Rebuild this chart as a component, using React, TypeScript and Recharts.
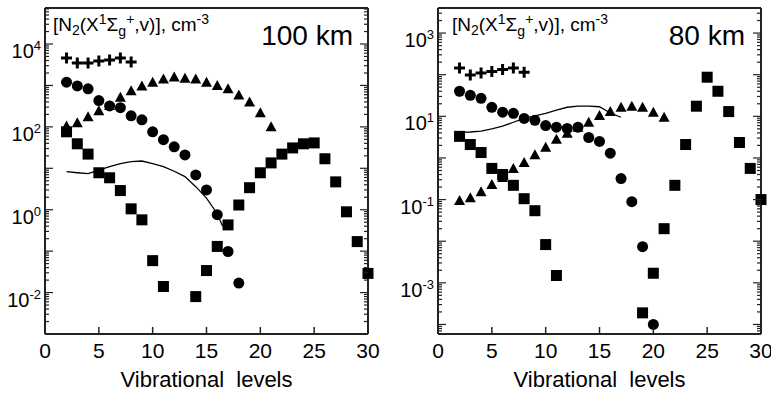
import React from 'react';
import { ComposedChart, Scatter, Line, XAxis, YAxis } from 'recharts';

// ---- 100 km panel ----
const plusLevels100 = [2, 3, 4, 5, 6, 7, 8];
const plus100 = [4600, 3500, 3500, 3900, 4100, 4600, 3700];
const circleLevels100 = [2, 3, 4, 5, 6, 7, 8, 9, 10, 11, 12, 13, 14, 15, 16, 17, 18];
const circle100 = [1200, 970, 830, 430, 320, 290, 185, 148, 76, 49, 33, 21, 6.9, 3.0, 0.76, 0.098, 0.017];
const triLevels100 = [2, 3, 4, 5, 6, 7, 8, 9, 10, 11, 12, 13, 14, 15, 16, 17, 18, 19, 20, 21];
const tri100 = [105, 125, 175, 245, 330, 520, 740, 970, 1200, 1440, 1600, 1500, 1440, 1200, 1000, 830, 590, 400, 220, 100];
const sqLevels100 = [2, 3, 4, 5, 6, 7, 8, 9, 10, 11, 14, 15, 16, 17, 18, 19, 20, 21, 22, 23, 24, 25, 26, 27, 28, 29, 30];
const sq100 = [76, 39, 22, 7.8, 5.9, 2.9, 1.05, 0.57, 0.059, 0.014, 0.008, 0.034, 0.13, 0.43, 1.3, 3.4, 7.8, 13.5, 22, 31, 39, 41, 17, 4.7, 0.89, 0.17, 0.029];
const lineLevels100 = [2, 3, 4, 5, 6, 7, 8, 9, 10, 11, 12, 13, 14, 15, 16, 16.5];
const line100 = [8.3, 7.8, 7.4, 9, 11, 13, 14.5, 15, 13, 11, 8.5, 6.3, 3.6, 1.9, 0.8, 0.4];

// ---- 80 km panel ----
const plusLevels80 = [2, 3, 4, 5, 6, 7, 8];
const plus80 = [145, 98, 110, 120, 134, 145, 115];
const circleLevels80 = [2, 3, 4, 5, 6, 7, 8, 9, 10, 11, 12, 13, 14, 15, 16, 17, 18, 19, 20];
const circle80 = [40, 32, 27, 16.5, 12.6, 11.8, 8.9, 8, 6, 5.5, 5.1, 5.5, 3.1, 2.5, 1.3, 0.32, 0.089, 0.0074, 0.0001];
const triLevels80 = [2, 3, 4, 5, 6, 7, 8, 9, 10, 11, 12, 13, 14, 15, 16, 17, 18, 19, 20, 21];
const tri80 = [0.095, 0.11, 0.155, 0.23, 0.34, 0.56, 0.78, 1.2, 1.8, 2.8, 3.9, 5.5, 7.2, 10.5, 13, 16.5, 17.5, 16.5, 12.6, 9.5];
const sqLevels80 = [2, 3, 4, 5, 6, 7, 8, 9, 10, 11, 19, 20, 21, 22, 23, 24, 25, 26, 27, 28, 29, 30];
const sq80 = [3.3, 2.1, 1.35, 0.56, 0.4, 0.22, 0.105, 0.054, 0.0083, 0.0015, 0.00019, 0.0017, 0.02, 0.22, 2.1, 17.5, 87, 40, 13, 2.35, 0.56, 0.1];
const lineLevels80 = [2, 3, 4, 5, 6, 7, 8, 9, 10, 11, 12, 13, 14, 15, 16, 17];
const line80 = [4.1, 4.2, 4.4, 5, 5.8, 7.2, 8.9, 10.3, 11.8, 14, 16.5, 17.5, 17.5, 17, 12, 9.5];

// axes
const xTicks = [0, 5, 10, 15, 20, 25, 30];
const yLabels100 = [-2, 0, 2, 4];
const yLabels80 = [-3, -1, 1, 3];
const yDomain100: [number, number] = [1e-3, 7.4e4];
const yDomain80: [number, number] = [5.9e-5, 4.0e3];

const INK = '#222';
const FONT = '"Liberation Sans", Arial, sans-serif';

const zip = (xs: number[], ys: number[]) => xs.map((v, i) => ({ v, n: ys[i] }));

function logTicks([lo, hi]: [number, number]) {
  const out: number[] = [];
  for (let e = Math.floor(Math.log10(lo)); e <= Math.ceil(Math.log10(hi)); e++) {
    for (let m = 1; m <= 9; m++) {
      const t = m * Math.pow(10, e);
      if (t >= lo && t <= hi) out.push(t);
    }
  }
  return out;
}

const isDecade = (t: number) => Math.abs(Math.log10(t) - Math.round(Math.log10(t))) < 1e-6;

const Square = (p: any) => <rect x={p.cx - 5.5} y={p.cy - 5.5} width={11} height={11} fill="#000" />;
const Dot = (p: any) => <circle cx={p.cx} cy={p.cy} r={5.5} fill="#000" />;
const Tri = (p: any) => (
  <path d={`M${p.cx},${p.cy - 5.5}L${p.cx + 5.5},${p.cy + 4.5}L${p.cx - 5.5},${p.cy + 4.5}Z`} fill="#000" />
);
const Plus = (p: any) => (
  <path d={`M${p.cx - 5.5},${p.cy}H${p.cx + 5.5}M${p.cx},${p.cy - 5.5}V${p.cy + 5.5}`} stroke="#000" strokeWidth={3} />
);

const makeLeftTick = (labels: number[]) => (p: any) => {
  const t = p.payload.value;
  const major = isDecade(t);
  const e = Math.round(Math.log10(t));
  return (
    <g>
      <line x1={p.x} x2={p.x + (major ? 8 : 4)} y1={p.y} y2={p.y} stroke={INK} strokeWidth={1.2} />
      {major && labels.includes(e) && (
        <text x={p.x - 4} y={p.y + 14} textAnchor="end" fontSize={20} fontFamily={FONT} fill="#000">
          10<tspan dy={-8} fontSize={13}>{e}</tspan>
        </text>
      )}
    </g>
  );
};

const RightTick = (p: any) => {
  const major = isDecade(p.payload.value);
  return <line x1={p.x} x2={p.x - (major ? 8 : 4)} y1={p.y} y2={p.y} stroke={INK} strokeWidth={1.2} />;
};

const BottomTick = (p: any) => (
  <g>
    <line x1={p.x} x2={p.x} y1={p.y} y2={p.y - 7} stroke={INK} strokeWidth={1.5} />
    <text x={p.x} y={p.y + 24} textAnchor="middle" fontSize={21} fontFamily={FONT} fill="#000">
      {p.payload.value}
    </text>
  </g>
);

const TopTick = (p: any) => <line x1={p.x} x2={p.x} y1={p.y} y2={p.y + 7} stroke={INK} strokeWidth={1.5} />;

type PanelProps = {
  width: number;
  yAxisWidth: number;
  rightMargin: number;
  domain: [number, number];
  labels: number[];
  sq: { v: number; n: number }[];
  tri: { v: number; n: number }[];
  dot: { v: number; n: number }[];
  plus: { v: number; n: number }[];
  line: { v: number; n: number }[];
};

function Panel(props: PanelProps) {
  const { width, yAxisWidth, rightMargin, domain, labels } = props;
  const axisLine = { stroke: INK, strokeWidth: 2 };
  return (
    <ComposedChart width={width} height={394} margin={{ top: 7, right: rightMargin, bottom: 0, left: 0 }}>
      <XAxis
        dataKey="v"
        type="number"
        domain={[0, 30]}
        ticks={xTicks}
        interval={0}
        tickSize={0}
        tickMargin={0}
        tickLine={false}
        axisLine={axisLine}
        height={60}
        tick={BottomTick}
        label={{ value: 'Vibrational\u00A0\u00A0levels', position: 'insideBottom', offset: 7, fontSize: 22, fontFamily: FONT, fill: '#000' }}
      />
      <XAxis
        xAxisId="t"
        orientation="top"
        dataKey="v"
        type="number"
        domain={[0, 30]}
        ticks={xTicks.slice(1, -1)}
        interval={0}
        tickSize={0}
        tickMargin={0}
        tickLine={false}
        axisLine={axisLine}
        height={1}
        tick={TopTick}
      />
      <YAxis
        dataKey="n"
        scale="log"
        type="number"
        domain={domain}
        allowDataOverflow
        ticks={logTicks(domain)}
        interval={0}
        tickSize={0}
        tickMargin={0}
        tickLine={false}
        axisLine={axisLine}
        width={yAxisWidth}
        tick={makeLeftTick(labels)}
      />
      <YAxis
        yAxisId="r"
        orientation="right"
        scale="log"
        type="number"
        domain={domain}
        allowDataOverflow
        ticks={logTicks(domain)}
        interval={0}
        tickSize={0}
        tickMargin={0}
        tickLine={false}
        axisLine={axisLine}
        width={4}
        tick={RightTick}
      />
      <Line data={props.line} dataKey="n" type="linear" stroke="#000" strokeWidth={1.3} dot={false} isAnimationActive={false} />
      <Scatter data={props.sq} dataKey="n" shape={Square} isAnimationActive={false} />
      <Scatter data={props.tri} dataKey="n" shape={Tri} isAnimationActive={false} />
      <Scatter data={props.dot} dataKey="n" shape={Dot} isAnimationActive={false} />
      <Scatter data={props.plus} dataKey="n" shape={Plus} isAnimationActive={false} />
    </ComposedChart>
  );
}

function Header({ x, y }: { x: number; y: number }) {
  return (
    <text x={x} y={y} fontSize={19} fontFamily={FONT} fill="#000">
      [N<tspan dy={4} fontSize={14}>2</tspan>
      <tspan dy={-4}>(X</tspan>
      <tspan dy={-7} fontSize={14}>1</tspan>
      <tspan dy={7}>Σ</tspan>
      <tspan dy={5} fontSize={14}>g</tspan>
      <tspan dy={-12} fontSize={14}>+</tspan>
      <tspan dy={7}>,v)], cm</tspan>
      <tspan dy={-7} fontSize={14}>-3</tspan>
    </text>
  );
}

export default function App() {
  return (
    <div style={{ position: 'absolute', left: 0, top: 0, width: 771, height: 394, background: '#fff', overflow: 'hidden' }}>
      <div style={{ position: 'absolute', left: 0, top: 0 }}>
        <Panel
          width={385}
          yAxisWidth={45}
          rightMargin={13}
          domain={yDomain100}
          labels={yLabels100}
          sq={zip(sqLevels100, sq100)}
          tri={zip(triLevels100, tri100)}
          dot={zip(circleLevels100, circle100)}
          plus={zip(plusLevels100, plus100)}
          line={zip(lineLevels100, line100)}
        />
      </div>
      <div style={{ position: 'absolute', left: 385, top: 0 }}>
        <Panel
          width={386}
          yAxisWidth={53}
          rightMargin={6}
          domain={yDomain80}
          labels={yLabels80}
          sq={zip(sqLevels80, sq80)}
          tri={zip(triLevels80, tri80)}
          dot={zip(circleLevels80, circle80)}
          plus={zip(plusLevels80, plus80)}
          line={zip(lineLevels80, line80)}
        />
      </div>
      <svg width={771} height={394} style={{ position: 'absolute', left: 0, top: 0, pointerEvents: 'none' }}>
        <Header x={53} y={31} />
        <text x={353} y={45} textAnchor="end" fontSize={28} fontFamily={FONT} fill="#000">100 km</text>
        <Header x={452} y={31} />
        <text x={745} y={45} textAnchor="end" fontSize={28} fontFamily={FONT} fill="#000">80 km</text>
      </svg>
    </div>
  );
}
